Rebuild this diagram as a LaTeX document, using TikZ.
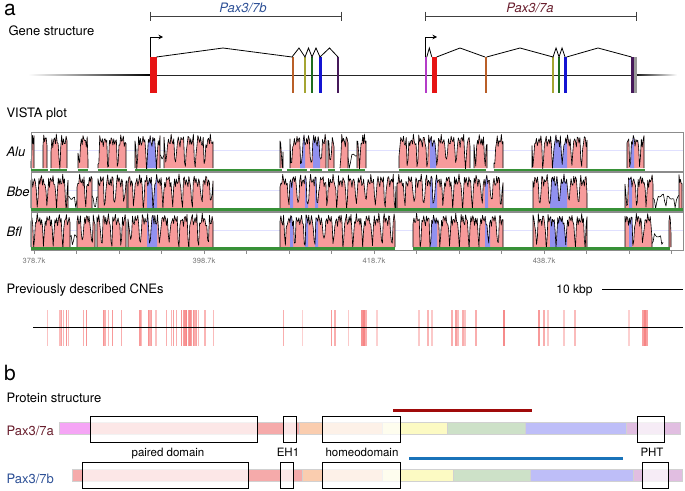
\documentclass[tikz,border=0pt]{standalone}
\usepackage{fontspec}
\setmainfont{TeX Gyre Heros}
\usetikzlibrary{arrows.meta}

\definecolor{paxa}{RGB}{105,30,45}
\definecolor{paxb}{RGB}{45,80,150}
\definecolor{exred}{RGB}{230,20,20}
\definecolor{exbrown}{RGB}{185,95,40}
\definecolor{exolive}{RGB}{165,165,50}
\definecolor{exgreen}{RGB}{30,110,30}
\definecolor{exblue}{RGB}{20,20,210}
\definecolor{expurple}{RGB}{70,25,90}
\definecolor{exviolet}{RGB}{180,60,200}
\definecolor{vpink}{RGB}{247,155,155}
\definecolor{vblue}{RGB}{145,145,240}
\definecolor{vgreen}{RGB}{55,145,55}
\definecolor{cnered}{RGB}{245,120,120}
\definecolor{lnred}{RGB}{160,10,10}
\definecolor{lnblue}{RGB}{25,115,185}
\definecolor{pviolet}{RGB}{245,165,245}
\definecolor{ppink}{RGB}{245,170,170}
\definecolor{ppeach}{RGB}{250,205,175}
\definecolor{pyellow}{RGB}{252,250,195}
\definecolor{pgreen}{RGB}{205,225,200}
\definecolor{plav}{RGB}{190,190,248}
\definecolor{pmauve}{RGB}{225,190,225}

% one conserved region of a VISTA track: from, to, baseline, phase, blue parts
\newcommand{\vistaregion}[5]{%
  \pgfmathtruncatemacro\ns{(#2-#1)/0.9+2}
  \fill[vpink] (#1,#3) -- plot[variable=\t, domain=#1:#2, samples=\ns] (\t,{#3-34*cons(\t,#4)}) -- (#2,#3) -- cycle;
  \foreach \ba/\bb in {#5} {
    \begin{scope}
      \clip (\ba,#3-36) rectangle (\bb,#3);
      \fill[vblue] (#1,#3) -- plot[variable=\t, domain=#1:#2, samples=\ns] (\t,{#3-34*cons(\t,#4)}) -- (#2,#3) -- cycle;
    \end{scope}
  }
  \draw[vcurve] (#1,#3) -- plot[variable=\t, domain=#1:#2, samples=\ns] (\t,{#3-34*cons(\t,#4)}) -- (#2,#3);
}
% low, unconserved stretch
\newcommand{\vistanoise}[4]{%
  \pgfmathtruncatemacro\ns{(#2-#1)/1.3+2}
  \draw[vcurve] plot[variable=\t, domain=#1:#2, samples=\ns] (\t,{#3-14*cons(\t,#4)});
}

\begin{document}
\begin{tikzpicture}[
    x=1pt, y=-1pt,
    declare function={cons(\t,\k)=0.8+0.13*sin(mod(\t,7)*263+\k)+0.07*sin(mod(\t,11)*71+2*\k)-0.72*max(0,sin(mod(\t,29)*37+30+\k)-0.6)/0.4;},
    panel/.style={anchor=base west, inner sep=0pt, font=\fontsize{21}{24}\selectfont},
    heading/.style={anchor=base west, font=\fontsize{13}{15}\selectfont},
    genetitle/.style={anchor=base, font=\fontsize{13}{15}\selectfont\itshape},
    species/.style={anchor=base west, font=\fontsize{13}{15}\selectfont\itshape},
    ticklabel/.style={font=\fontsize{7.5}{9}\selectfont, text=black!55},
    bracket/.style={draw=black!75, line width=0.8pt},
    intron/.style={draw=black, line width=0.8pt, line join=miter},
    tss/.style={draw=black, line width=0.8pt, -{Stealth[length=4.5pt, width=4.5pt]}},
    vcurve/.style={draw=black, line width=0.6pt, line join=round},
    frame/.style={draw=black!45, line width=0.6pt},
    dombox/.style={draw=black, line width=0.8pt, fill=white, fill opacity=0.72, text opacity=1, inner sep=0pt, minimum height=26pt},
    domlabel/.style={anchor=base, font=\fontsize{11.5}{13}\selectfont},
    protname/.style={anchor=base west, font=\fontsize{13}{15}\selectfont},
    hitline/.style={line width=3pt}
]
\useasboundingbox (0,0) rectangle (685,490);

% ---------------- a: gene structure ----------------
\node[panel] (pa) at (4,15.5) {a};
\node[heading] (genehead) at (5,35.7) {Gene structure};

% gene extents
\draw[bracket] (150,11.5) -- (150,20.5) (150,16) -- (341,16) (341,11.5) -- (341,20.5);
\draw[bracket] (425,11.5) -- (425,20.5) (425,16) -- (636,16) (636,11.5) -- (636,20.5);
\node[genetitle, text=paxb] (titleb) at (243,12.5) {Pax3/7b};
\node[genetitle, text=paxa] (titlea) at (530,12.5) {Pax3/7a};

% genomic line
\shade[left color=white, right color=black] (28,74.1) rectangle (150,75.9);
\draw[black!85, line width=0.9pt] (150,75) -- (632,75);
\shade[left color=black, right color=white] (632,74.1) rectangle (677,75.9);

% exons of Pax3/7b
\fill[exred] (150,57) rectangle (156.5,93);
\fill[exbrown] (291.8,57) rectangle (293.8,93);
\fill[exolive] (303.8,57) rectangle (306.2,93);
\fill[exgreen] (310.6,57) rectangle (313,93);
\fill[exblue] (318.6,57) rectangle (321.6,93);
\fill[expurple] (337.2,57) rectangle (339.2,93);
\draw[intron] (156.5,57) -- (223,48) -- (292,57) -- (299,48) -- (305,57) -- (308.5,48)
  -- (312,57) -- (316,48) -- (320,57) -- (329.5,48) -- (338,57);
\draw[tss] (150,57) -- (150,37) -- (163,37);

% exons of Pax3/7a
\fill[exviolet] (425.3,57) rectangle (426.8,93);
\fill[exred] (431.8,57) rectangle (436.6,93);
\fill[exbrown] (484.8,57) rectangle (486.8,93);
\fill[exolive] (552.2,57) rectangle (554.4,93);
\fill[exgreen] (558.2,57) rectangle (560.4,93);
\fill[exblue] (563.6,57) rectangle (566.8,93);
\fill[black!40] (633.5,57) rectangle (636.5,93);
\fill[expurple] (630.8,57) rectangle (633.5,93);
\draw[intron] (426.8,57) -- (429.3,48) -- (431.8,57);
\draw[intron] (436.6,57) -- (460,48) -- (485,57);
\draw[intron] (486.6,57) -- (520,48) -- (553,57) -- (556,48) -- (559,57) -- (562,48) -- (565,57);
\draw[intron] (566.6,57) -- (598,48) -- (631.5,57);
\draw[tss] (425.5,57) -- (425.5,37) -- (437,37);

% ---------------- VISTA plot ----------------
\node[heading] (vistahead) at (3,117.5) {VISTA plot};
\node[species] (alu) at (3,156.7) {Alu};
\node[species] (bbe) at (3,196.7) {Bbe};
\node[species] (bfl) at (3,236.7) {Bfl};

\foreach \top/\bot in {132/171.5, 172/211, 212/250} {
  \fill[white] (31,\top) rectangle (683,\bot);
  \draw[blue!12, line width=0.6pt] (31,{\top+18}) -- (683,{\top+18});
}

% Alu
\vistaregion{31}{34}{168}{0}{0/0}
\vistaregion{43}{47}{168}{0}{0/0}
\vistaregion{51}{67}{168}{0}{0/0}
\vistaregion{78}{88}{168}{0}{0/0}
\vistaregion{98}{126}{168}{0}{0/0}
\vistaregion{135}{160}{168}{0}{147/157}
\vistanoise{160}{164}{168}{0}
\vistaregion{164}{213}{168}{0}{0/0}
\vistaregion{280}{283}{168}{0}{0/0}
\vistaregion{290}{326}{168}{0}{300/305,313/320}
\vistaregion{328}{334}{168}{0}{0/0}
\vistaregion{340}{348}{168}{0}{0/0}
\vistanoise{348}{357}{168}{0}
\vistaregion{357}{366}{168}{0}{0/0}
\vistaregion{399}{470}{168}{0}{430/436}
\vistaregion{474}{487}{168}{0}{0/0}
\vistaregion{494}{503}{168}{0}{0/0}
\vistaregion{532}{587}{168}{0}{553/567}
\vistaregion{627}{644}{168}{0}{630/634}

% Bbe
\vistaregion{31}{68}{208}{120}{0/0}
\vistanoise{68}{77}{208}{120}
\vistaregion{77}{92}{208}{120}{0/0}
\vistanoise{92}{98}{208}{120}
\vistaregion{98}{127}{208}{120}{0/0}
\vistaregion{128}{213}{208}{120}{147/157}
\vistaregion{280}{396}{208}{120}{290/293,305/308,315/318}
\vistaregion{397}{503}{208}{120}{430/437,485/488}
\vistaregion{533}{587}{208}{120}{550/567}
\vistaregion{625}{653}{208}{120}{629/632}
\vistanoise{653}{679}{208}{120}
\vistaregion{679}{682}{208}{120}{0/0}

% Bfl
\vistaregion{31}{70}{247}{240}{0/0}
\vistanoise{70}{77}{247}{240}
\vistaregion{77}{95}{247}{240}{0/0}
\vistaregion{97}{126}{247}{240}{0/0}
\vistaregion{128}{213}{247}{240}{147/157}
\vistaregion{280}{395}{247}{240}{290/293,305/308,315/318}
\vistaregion{413}{503}{247}{240}{430/437,485/490}
\vistaregion{533}{587}{247}{240}{550/567}
\vistaregion{625}{652}{247}{240}{629/632}
\vistanoise{652}{663}{247}{240}
\vistaregion{669}{671}{247}{240}{0/0}

% track frames and conserved blocks
\foreach \top/\bot in {132/171.5, 172/211, 212/250}
  \draw[frame] (31,\top) rectangle (683,\bot);
\foreach \xa/\xb in {31/48, 50/67, 78/88, 98/127, 135/282, 287/307, 310/322, 328/335, 340/365, 399/486, 494/645}
  \draw[vgreen, line width=2.4pt] (\xa,169.8) -- (\xb,169.8);
\draw[vgreen, line width=2.4pt] (31,209.5) -- (683,209.5);
\foreach \xa/\xb in {31/395, 413/670}
  \draw[vgreen, line width=2.4pt] (\xa,248.4) -- (\xb,248.4);

% axis
\foreach \k in {0,...,15}
  \draw[black!45, line width=0.5pt] ({34+42.5*\k},250) -- ({34+42.5*\k},253.5);
\foreach \k/\lab in {0/378.7k, 4/398.7k, 8/418.7k, 12/438.7k}
  \node[ticklabel] (tick\k) at ({34+42.5*\k},261) {\lab};

% ---------------- CNEs ----------------
\node[heading] (cnehead) at (3,293) {Previously described CNEs};
\node[anchor=base east, font=\fontsize{12}{14}\selectfont] (kbp) at (596,293) {10 kbp};
\coordinate (scaleend) at (683,289);
\draw[black, line width=0.8pt] ([xshift=6pt]kbp.east |- scaleend) -- (scaleend);

\foreach \x/\o in {47.3/0.45, 60/0.5, 61.7/0.7, 63.3/0.55, 66.7/0.8, 68.3/0.5, 83.3/0.6, 86.7/0.8,
  103.3/0.8, 105/0.6, 108.3/0.5, 112.7/0.75, 121.7/0.6, 140/0.75, 141.7/0.5, 148.3/0.8, 150/0.6,
  151.7/0.7, 156/0.45, 166.7/0.6, 171.7/0.55, 173.3/0.7, 176.7/0.6, 181.7/0.8, 183.3/0.7, 185/0.8,
  186.7/0.9, 188.3/0.7, 190/0.85, 191.7/0.7, 193.3/0.8, 195/0.6, 196.7/0.7, 198.3/0.5, 205/0.55,
  213.3/0.5, 283.3/0.6, 302.7/0.35, 331.7/0.75, 335/0.6, 348.3/0.4, 362/0.8, 364/0.9, 366/0.6,
  377/0.35, 419/0.4, 428/0.55, 432/0.4, 452/0.6, 456/0.7, 458/0.5, 463/0.6, 465/0.45, 476/0.6,
  504/0.85, 539/0.75, 544/0.6, 548/0.4, 564/0.4, 575/0.5, 629/0.35, 643/0.7, 645/0.9, 647/0.7}
  \fill[cnered, opacity=\o] ({\x-0.75},309.5) rectangle ({\x+0.75},345.5);
\draw[black, line width=1pt] (33,327.5) -- (683,327.5);

% ---------------- b: protein structure ----------------
\node[panel] (pb) at (4,380) {b};
\node[heading] (prothead) at (3,402) {Protein structure};

\node[protname, text=paxa] (nameA) at (3,435) {Pax3/7a};
\node[protname, text=paxb] (nameB) at (3,483) {Pax3/7b};

% Pax3/7a
\foreach \xa/\xb/\c in {59/90/pviolet, 90/299/ppink, 299/382/ppeach, 382/447/pyellow,
  447/525/pgreen, 525/626/plav, 626/680/pmauve}
  \fill[\c, draw=black!18, line width=0.4pt] (\xa,422) rectangle (\xb,434);
\node[dombox, minimum width=167pt] (pairedA) at (173.5,429) {};
\node[dombox, minimum width=13pt] (ehA) at (289.5,429) {};
\node[dombox, minimum width=78pt] (homeoA) at (361,429) {};
\node[dombox, minimum width=27pt] (phtA) at (650.5,429) {};

% Pax3/7b
\foreach \xa/\xb/\c in {72/302/ppink, 302/382/ppeach, 382/453/pyellow,
  453/530/pgreen, 530/633/plav, 633/682/pmauve}
  \fill[\c, draw=black!18, line width=0.4pt] (\xa,469) rectangle (\xb,481);
\node[dombox, minimum width=166pt] (pairedB) at (165,475) {};
\node[dombox, minimum width=13pt] (ehB) at (286.5,475) {};
\node[dombox, minimum width=78pt] (homeoB) at (361,475) {};
\node[dombox, minimum width=26pt] (phtB) at (655,475) {};

% domain names
\node[domlabel] (pdlabel) at (168,456) {paired domain};
\node[domlabel] (ehlabel) at (288,456) {EH1};
\node[domlabel] (hdlabel) at (362,456) {homeodomain};
\node[domlabel] (phtlabel) at (652,456) {PHT};

% regions above the bars
\coordinate (reda) at (393,410);
\coordinate (redb) at (532,410);
\draw[hitline, lnred] (reda) -- (redb);
\coordinate (bluea) at (409,458);
\coordinate (blueb) at (623,458);
\draw[hitline, lnblue] (bluea) -- (blueb);

\end{tikzpicture}
\end{document}
